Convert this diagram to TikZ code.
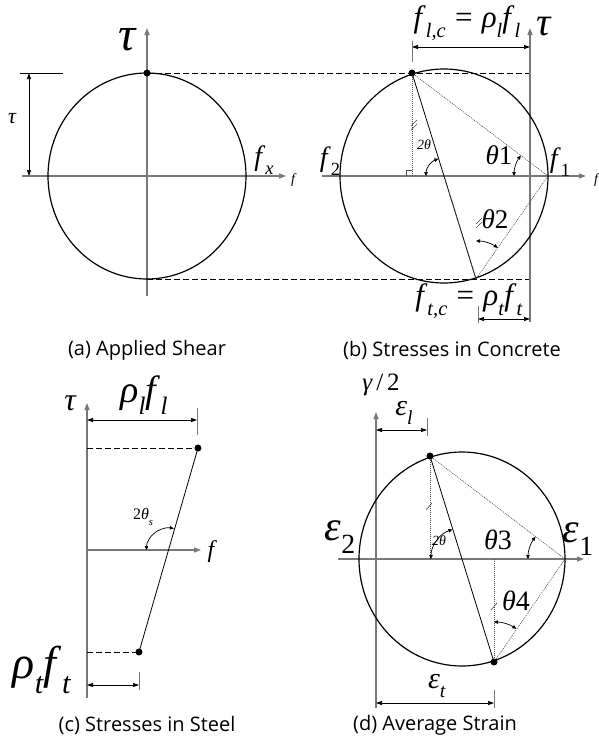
\documentclass[tikz,border=0pt]{standalone}
\usepackage{fontspec}
\setmainfont{Liberation Serif}
\newfontfamily\capfont{Open Sans}
\usetikzlibrary{arrows.meta,calc}
\newcommand\fs[1]{\fontsize{#1}{#1}\selectfont}
\newcommand\mi[1]{\textit{#1}}
\newcommand\sbs[1]{\raisebox{-0.32em}{\scalebox{0.66}{#1}}}
\newcommand\eqs{\hspace{0.3em}=\hspace{0.3em}}
\definecolor{axgray}{RGB}{120,120,120}
\definecolor{dotgray}{RGB}{70,70,70}
\begin{document}
\begin{tikzpicture}[x=1pt,y=-1pt,
  axis/.style={draw=axgray,line width=1.3pt,-{Triangle[length=7pt,width=5pt]}},
  circ/.style={draw=black,line width=1.2pt},
  chord/.style={draw=black,line width=0.8pt},
  dashln/.style={draw=black,line width=0.7pt,dash pattern=on 6pt off 3pt},
  dotln/.style={draw=dotgray,line width=0.6pt,dash pattern=on 1pt off 1pt},
  dimln/.style={draw=black,line width=0.7pt,{Triangle[length=6pt,width=4pt]}-{Triangle[length=6pt,width=4pt]}},
  tickln/.style={draw=axgray,line width=1pt},
  angarc/.style={draw=black,line width=0.7pt,{Triangle[length=4pt,width=3.5pt]}-{Triangle[length=4pt,width=3.5pt]}},
  hatch/.style={draw=dotgray,line width=0.6pt},
  lbl/.style={inner sep=0pt,outer sep=0pt},
  captxt/.style={inner sep=0pt,font=\capfont\fs{20}},
  ptdot/.style={fill=black}
]
\useasboundingbox (0,0) rectangle (599,747);

% ---------------- (a) Applied shear
\coordinate (Ac) at (147,176);
\coordinate (At) at (147,73);
\coordinate (Ab) at (147,279);
\coordinate (AvS) at (147,296);
\coordinate (AvE) at (147,28);
\coordinate (AhS) at (22,176);
\coordinate (AhE) at (286,176);
\draw[axis] (AvS) -- (AvE);
\draw[axis] (AhS) -- (AhE);
\draw[circ] (Ac) ellipse [x radius=99, y radius=103];
\coordinate (AtauL) at (20,73);
\coordinate (AtauR) at (63,73);
\coordinate (AdimT) at (29,73);
\coordinate (AdimB) at (29,176);
\draw[chord] (AtauL) -- (AtauR);
\draw[dimln] (AdimT) -- (AdimB);
\node[lbl,font=\fs{22}\itshape] (tauDim) at (12,119) {τ};
\node[lbl,font=\fs{48}\itshape] (tauA) at (127,40) {τ};
\node[lbl,font=\fs{28}] (fx) at (264,160) {\mi{f}\sbs{\mi{x}}};
\node[lbl,font=\fs{14}\itshape] (fA) at (293,180) {f};

% ---------------- (b) Stresses in concrete
\coordinate (Bc) at (444,176);
\coordinate (BT) at (412,73);
\coordinate (BB) at (476,279);
\coordinate (Bf1) at (548,176);
\coordinate (BTfoot) at (412,176);
\coordinate (BvS) at (530,322);
\coordinate (BvE) at (530,28);
\coordinate (BhS) at (322,176);
\coordinate (BhE) at (586,176);
\coordinate (BdashT) at (530,73);
\coordinate (BdashB) at (530,279);
\draw[dashln] (At) -- (BdashT);
\draw[dashln] (Ab) -- (BdashB);
\draw[axis] (BvS) -- (BvE);
\draw[axis] (BhS) -- (BhE);
\draw[circ] (Bc) ellipse [x radius=104, y radius=107];
\draw[chord] (BT) -- (BB);
\draw[dotln] (BT) -- (Bf1);
\draw[dotln] (BB) -- (Bf1);
\draw[dotln] (BT) -- (BTfoot);
\draw[dotln] (Bc) -- (BB);
\draw[hatch] (406,176) -- (406,170) -- (412,170);
\draw[hatch] (411,126) -- (417,120) (411,130) -- (417,124);
\draw[hatch] (476,224) -- (482,218) (476,228) -- (482,222);
\draw[angarc] ($(Bc)+(180:18)$) arc[start angle=180,end angle=252,radius=18];
\draw[angarc] ($(Bf1)+(180:34)$) arc[start angle=180,end angle=217,radius=34];
\draw[angarc] ($(BB)+(270:38)$) arc[start angle=270,end angle=305,radius=38];
\node[lbl,font=\fs{14}\itshape] (tt1) at (424,145) {2θ};
\node[lbl,font=\fs{27}] (th1) at (499,155) {\mi{θ}1};
\node[lbl,font=\fs{27}] (th2) at (495,219) {\mi{θ}2};
\node[lbl,font=\fs{28}] (f2) at (330,161) {\mi{f}\sbs{2}};
\node[lbl,font=\fs{28}] (f1) at (560,162) {\mi{f}\sbs{1}};
\node[lbl,font=\fs{14}\itshape] (fB) at (596,180) {f};
\node[lbl,font=\fs{40}\itshape] (tauB) at (544,27) {τ};
\node[lbl,font=\fs{31}] (flc) at (467,23) {\mi{f}\sbs{\mi{l,c}}\eqs\mi{ρ}\sbs{\mi{l}}\mi{f}\sbs{\mi{l}}};
\coordinate (BtickT) at (412,41);
\coordinate (BtickB) at (412,62);
\coordinate (BdimL) at (412,47);
\coordinate (BdimR) at (530,47);
\draw[tickln] (BtickT) -- (BtickB);
\draw[dimln] (BdimL) -- (BdimR);
\node[lbl,font=\fs{31}] (ftc) at (469,301) {\mi{f}\sbs{\mi{t,c}}\eqs\mi{ρ}\sbs{\mi{t}}\mi{f}\sbs{\mi{t}}};
\coordinate (BbtT) at (478,306);
\coordinate (BbtB) at (478,323);
\coordinate (BbdL) at (478,319);
\coordinate (BbdR) at (530,319);
\draw[tickln] (BbtT) -- (BbtB);
\draw[dimln] (BbdL) -- (BbdR);

\node[captxt] (capA) at (147,350) {(a) Applied Shear};
\node[captxt] (capB) at (452,350) {(b) Stresses in Concrete};

% ---------------- (c) Stresses in steel
\coordinate (CvS) at (87,698);
\coordinate (CvE) at (87,403);
\coordinate (ChS) at (87,550);
\coordinate (ChE) at (201,550);
\draw[axis] (CvS) -- (CvE);
\draw[axis] (ChS) -- (ChE);
\coordinate (CT) at (198,448);
\coordinate (CB) at (139,652);
\coordinate (CTl) at (87,448);
\coordinate (CBl) at (87,652);
\coordinate (CX) at (168.5,550);
\draw[dashln] (CTl) -- (CT);
\draw[dashln] (CBl) -- (CB);
\draw[chord] (CT) -- (CB);
\fill[ptdot] (CT) circle (3.5pt);
\fill[ptdot] (CB) circle (3.5pt);
\draw[angarc] ($(CX)+(180:22)$) arc[start angle=180,end angle=284,radius=22];
\node[lbl,font=\fs{16}] (tts) at (143,517) {2\mi{θ}\sbs{\mi{s}}};
\node[lbl,font=\fs{24}\itshape] (fC) at (211,552) {f};
\node[lbl,font=\fs{32}\itshape] (tauC) at (70,403) {τ};
\node[lbl,font=\fs{38}] (rlfl) at (144,395) {\mi{ρ}\sbs{\mi{l}}\mi{f}\sbs{\mi{l}}};
\coordinate (CtickT) at (197,408);
\coordinate (CtickB) at (197,435);
\coordinate (CdimL) at (87,420);
\coordinate (CdimR) at (197,420);
\draw[tickln] (CtickT) -- (CtickB);
\draw[dimln] (CdimL) -- (CdimR);
\node[lbl,font=\fs{46}] (rtft) at (42,670) {\mi{ρ}\sbs{\mi{t}}\mi{f}\sbs{\mi{t}}};
\coordinate (CbtT) at (139,672);
\coordinate (CbtB) at (139,690);
\coordinate (CbdL) at (87,685);
\coordinate (CbdR) at (139,685);
\draw[tickln] (CbtT) -- (CbtB);
\draw[dimln] (CbdL) -- (CbdR);

% ---------------- (d) Average strain
\coordinate (DvS) at (376,708);
\coordinate (DvE) at (376,412);
\coordinate (DhS) at (338,559);
\coordinate (DhE) at (584,559);
\draw[axis] (DvS) -- (DvE);
\draw[axis] (DhS) -- (DhE);
\coordinate (Dc) at (462,559);
\coordinate (DT) at (430,456);
\coordinate (DB) at (494,662);
\coordinate (De1) at (565,559);
\coordinate (DTfoot) at (430,559);
\coordinate (DBtop) at (494,559);
\draw[circ] (Dc) ellipse [x radius=103, y radius=107];
\draw[chord] (DT) -- (DB);
\draw[dotln] (DT) -- (De1);
\draw[dotln] (DB) -- (De1);
\draw[dotln] (DT) -- (DTfoot);
\draw[dotln] (DBtop) -- (DB);
\fill[ptdot] (DT) circle (3.5pt);
\fill[ptdot] (DB) circle (3.5pt);
\draw[hatch] (426,510) -- (432,503);
\draw[hatch] (491,610) -- (497,603);
\draw[angarc] ($(Dc)+(180:31)$) arc[start angle=180,end angle=252,radius=31];
\draw[angarc] ($(De1)+(180:37)$) arc[start angle=180,end angle=217,radius=37];
\draw[angarc] ($(DB)+(270:40)$) arc[start angle=270,end angle=304,radius=40];
\node[lbl,font=\fs{14}\itshape] (tt2) at (439,541) {2θ};
\node[lbl,font=\fs{28}] (th3) at (498,540) {\mi{θ}3};
\node[lbl,font=\fs{28}] (th4) at (516,601) {\mi{θ}4};
\node[lbl,font=\fs{42}] (e2) at (340,537) {\mi{ε}\sbs{2}};
\node[lbl,font=\fs{42}] (e1) at (578,539) {\mi{ε}\sbs{1}};
\node[lbl,font=\fs{25}] (gam) at (381,385) {\mi{γ}\hspace{0.15em}/\hspace{0.15em}2};
\node[lbl,font=\fs{30}] (el) at (404,413) {\mi{ε}\sbs{\mi{l}}};
\coordinate (DtickT) at (427,418);
\coordinate (DtickB) at (427,436);
\coordinate (DdimL) at (376,430);
\coordinate (DdimR) at (427,430);
\draw[tickln] (DtickT) -- (DtickB);
\draw[dimln] (DdimL) -- (DdimR);
\node[lbl,font=\fs{30}] (et) at (437,686) {\mi{ε}\sbs{\mi{t}}};
\coordinate (DbtT) at (494,690);
\coordinate (DbtB) at (494,708);
\coordinate (DbdL) at (376,703);
\coordinate (DbdR) at (494,703);
\draw[tickln] (DbtT) -- (DbtB);
\draw[dimln] (DbdL) -- (DbdR);

% dots on top (a, b)
\fill[ptdot] (At) circle (3.5pt);
\fill[ptdot] (BT) circle (3.5pt);

\node[captxt] (capC) at (147,725) {(c) Stresses in Steel};
\node[captxt] (capD) at (435,725) {(d) Average Strain};
\end{tikzpicture}
\end{document}
